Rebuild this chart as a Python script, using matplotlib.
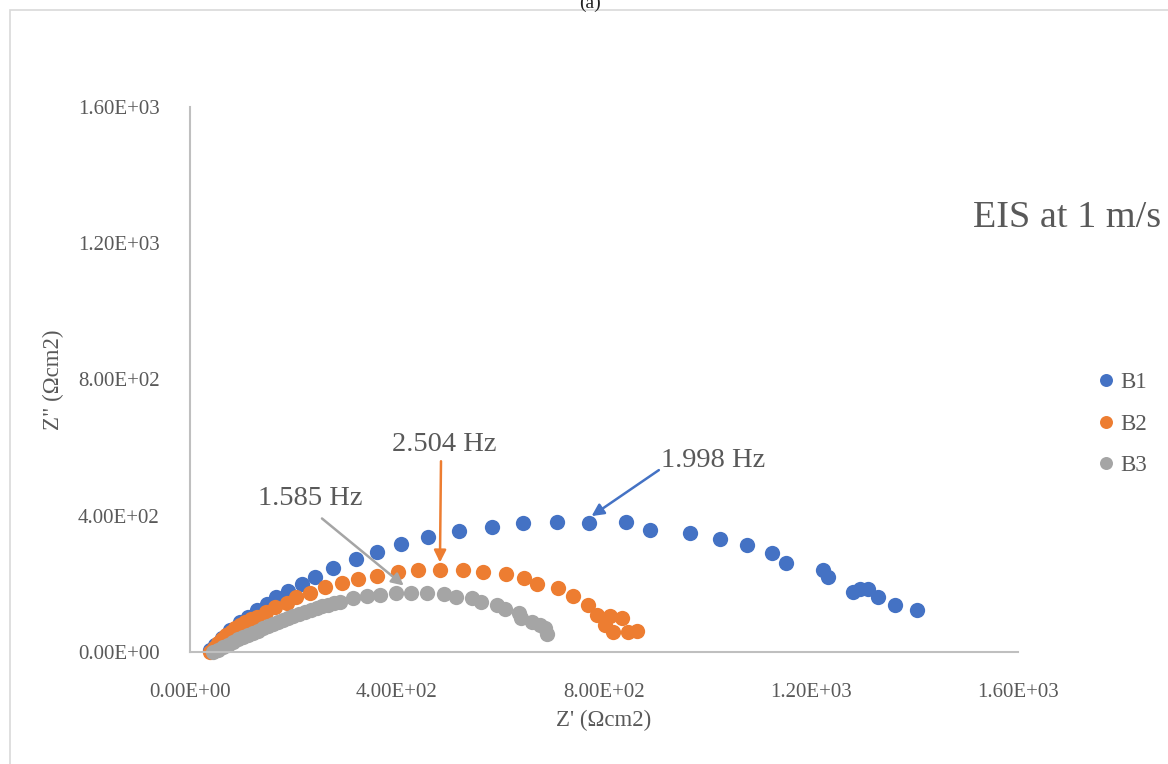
"""
EIS Nyquist plot at 1 m/s for samples B1, B2 and B3.
"""

import matplotlib
matplotlib.use("Agg")
import matplotlib.pyplot as plt
from matplotlib.ticker import FuncFormatter, MultipleLocator

# ---------------------------------------------------------
# DATA (Z' and Z'' in Ohm cm2)
# ---------------------------------------------------------
B1_ZRE = [38, 48, 62, 77, 97, 112, 129, 149, 166, 189, 216, 242, 276, 321, 361,
          408, 460, 520, 584, 644, 709, 771, 843, 889, 966, 1024, 1076, 1125,
          1152, 1223, 1233, 1281, 1295, 1310, 1329, 1362, 1405]
B1_ZIM = [5, 21, 41, 65, 88, 103, 123, 141, 161, 179, 200, 220, 247, 273, 294,
          317, 338, 355, 367, 379, 382, 379, 382, 358, 349, 332, 314, 291,
          261, 241, 220, 176, 185, 185, 161, 138, 123]

B2_ZRE = [38, 46, 54, 62, 70, 79, 87, 97, 106, 118, 129, 147, 164, 187, 205,
          232, 261, 294, 325, 361, 402, 441, 483, 528, 566, 611, 645, 671, 711,
          740, 769, 786, 812, 835, 802, 817, 846, 864]
B2_ZIM = [0, 13, 26, 38, 50, 60, 70, 80, 88, 96, 103, 117, 132, 144, 161,
          173, 191, 203, 214, 223, 235, 241, 241, 241, 235, 229, 217, 200, 188,
          164, 138, 109, 106, 100, 79, 59, 59, 62]

B3_ZRE = [44, 54, 64, 73, 83, 92, 102, 112, 122, 131, 141, 151, 160, 170, 180,
          190, 199, 211, 222, 234, 245, 256, 267, 279, 290, 315, 342, 367, 398,
          427, 458, 491, 514, 545, 562, 593, 609, 636, 640, 661, 676, 686, 690]
B3_ZIM = [0, 7, 15, 22, 29, 37, 44, 50, 56, 63, 70, 76, 82, 88, 94,
          100, 106, 112, 117, 123, 129, 134, 138, 143, 147, 159, 164, 167, 173,
          173, 173, 170, 161, 159, 147, 138, 126, 115, 100, 88, 79, 70, 53]

SERIES = [
    ("B1", B1_ZRE, B1_ZIM, "#4472C4"),
    ("B2", B2_ZRE, B2_ZIM, "#ED7D31"),
    ("B3", B3_ZRE, B3_ZIM, "#A5A5A5"),
]

TEXT_COLOR = "#595959"
AXIS_COLOR = "#BFBFBF"
FONT = "Liberation Serif"

# ---------------------------------------------------------
# FIGURE
# ---------------------------------------------------------
plt.rcParams["font.family"] = [FONT, "DejaVu Serif"]

fig = plt.figure(figsize=(11.68, 7.64), dpi=100)
ax = fig.add_axes([190 / 1168, 1 - 652 / 764, 828 / 1168, 545 / 764])

# outer chart frame and panel label
fig.patches.append(plt.Rectangle((10 / 1168, -0.05), 1.2, 1 - 10 / 764 + 0.05,
                                 transform=fig.transFigure, fill=False,
                                 edgecolor="#D9D9D9", linewidth=1.2))
fig.text(590 / 1168, 1 - 3 / 764, "(a)", ha="center", va="center", fontsize=14,
         color="#222222")

for name, zre, zim, color in SERIES:
    ax.plot(zre, zim, linestyle="none", marker="o", markersize=11,
            color=color, markeredgewidth=0, label=name, clip_on=False)

ax.set_xlim(0, 1600)
ax.set_ylim(0, 1600)
ax.xaxis.set_major_locator(MultipleLocator(400))
ax.yaxis.set_major_locator(MultipleLocator(400))
fmt = FuncFormatter(lambda v, _: f"{v:.2E}")
ax.xaxis.set_major_formatter(fmt)
ax.yaxis.set_major_formatter(fmt)
ax.tick_params(length=0, labelsize=15, labelcolor=TEXT_COLOR)
ax.tick_params(axis="x", pad=22)
ax.tick_params(axis="y", pad=22)

for side in ["top", "right"]:
    ax.spines[side].set_visible(False)
for side in ["left", "bottom"]:
    ax.spines[side].set_color(AXIS_COLOR)
    ax.spines[side].set_linewidth(1.5)

ax.set_xlabel("Z' (\u03a9cm2)", fontsize=16.5, color=TEXT_COLOR, labelpad=6)
ax.set_ylabel('Z" (\u03a9cm2)', fontsize=16.5, color=TEXT_COLOR, labelpad=10)

# ---------------------------------------------------------
# FREQUENCY ANNOTATIONS
# ---------------------------------------------------------
annotations = [
    ("2.504 Hz", (491, 608), (485, 560), (B2_ZRE[22], B2_ZIM[22] + 22), "#ED7D31"),
    ("1.585 Hz", (232, 452), (255, 392), (B3_ZRE[28] + 15, B3_ZIM[28] + 22), "#A5A5A5"),
    ("1.998 Hz", (1011, 561), (906, 534), (B1_ZRE[21] + 5, B1_ZIM[21] + 20), "#4472C4"),
]
for label, text_pos, tail, tip, color in annotations:
    ax.text(text_pos[0], text_pos[1], label, ha="center", va="center",
            fontsize=20.5, color=TEXT_COLOR)
    ax.annotate("", xy=tip, xytext=tail,
                arrowprops=dict(arrowstyle="-|>", color=color, lw=1.8,
                                mutation_scale=18, shrinkA=0, shrinkB=0))

ax.text(1513, 1274, "EIS at 1 m/s", ha="left", va="center", fontsize=27.5,
        color=TEXT_COLOR, clip_on=False)

ax.legend(loc="center left", bbox_to_anchor=(1088 / 1168, 1 - 424 / 764),
          bbox_transform=fig.transFigure, frameon=False, fontsize=16.5,
          handlelength=0.6, handletextpad=0.3, labelspacing=0.9,
          markerscale=0.85, labelcolor=TEXT_COLOR, borderpad=0)

fig.savefig("out.png", dpi=100)
